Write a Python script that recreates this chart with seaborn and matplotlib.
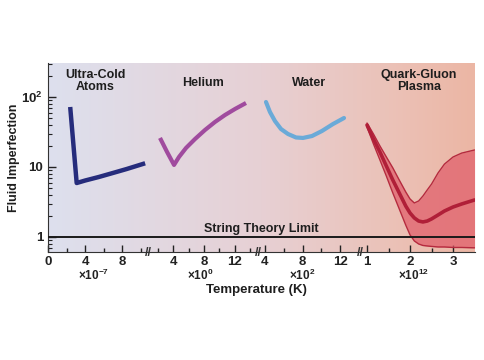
import numpy as np
import matplotlib
matplotlib.use("Agg")
import matplotlib.pyplot as plt
from matplotlib.colors import LinearSegmentedColormap
from matplotlib.ticker import NullFormatter, LogLocator
import seaborn as sns

# data (x in each segment's own units, y = fluid imperfection)
cold_x = [2.4, 3.1, 4.0, 5.5, 7.0, 8.5, 10.5]
cold_y = [72, 5.9, 6.4, 7.2, 8.2, 9.35, 11.3]

helium_x = [2.32, 3.23, 4.13, 4.77, 5.68, 6.84, 8.13, 9.42, 10.71, 12.0, 13.42]
helium_y = [26, 16.4, 10.7, 13.9, 18.7, 25.1, 33.8, 44.0, 55.3, 67.4, 82.1]

water_x = [4.11, 4.53, 5.06, 5.70, 6.45, 7.30, 8.04, 9.0, 10.06, 11.23, 12.4]
water_y = [84.8, 61.1, 45.4, 34.9, 29.6, 26.4, 26.0, 27.7, 32.7, 41.1, 50.1]

qgp_x = [1.0, 1.15, 1.3, 1.45, 1.6, 1.75, 1.9, 2.0, 2.1, 2.2, 2.3, 2.4, 2.5,
         2.65, 2.8, 3.0, 3.2, 3.5]
qgp_upper = [42.5, 29.6, 20.0, 13.9, 9.7, 6.5, 4.4, 3.49, 3.06, 3.27, 3.85,
             4.7, 5.7, 8.2, 11.0, 13.9, 15.8, 17.5]
qgp_mid = [39.8, 25.1, 16.4, 10.3, 6.5, 4.25, 2.77, 2.2, 1.87, 1.69, 1.64,
           1.69, 1.81, 2.06, 2.35, 2.68, 2.96, 3.38]
qgp_lower = [37.3, 21.3, 12.6, 7.4, 4.25, 2.51, 1.48, 1.07, 0.877, 0.794,
             0.756, 0.744, 0.733, 0.72, 0.72, 0.708, 0.708, 0.70]

string_limit = 1.0

seg_names = ["Ultra-Cold\nAtoms", "Helium", "Water", "Quark-Gluon\nPlasma"]
seg_mult = [r"$\mathbf{\times 10^{-7}}$", r"$\mathbf{\times 10^{0}}$",
            r"$\mathbf{\times 10^{2}}$", r"$\mathbf{\times 10^{12}}$"]
seg_mult_x = [4.9, 7.5, 7.9, 2.07]
seg_major = [[0, 4, 8], [4, 8, 12], [4, 8, 12], [1, 2, 3]]
seg_minor = [[2, 6, 10], [2, 6, 10, 14], [6, 10], [1.5, 2.5]]

sns.set_style("ticks")
plt.rcParams["font.family"] = ["Liberation Sans", "DejaVu Sans"]
plt.rcParams["font.weight"] = "bold"
plt.rcParams["mathtext.fontset"] = "custom"
plt.rcParams["mathtext.bf"] = "Liberation Sans:bold"
plt.rcParams["mathtext.rm"] = "Liberation Sans:bold"

W, H = 485, 360
fig = plt.figure(figsize=(W / 100, H / 100), dpi=100)

# pixel layout of the broken axis
px = [48, 148, 258, 360, 475]
bottom, top = 1 - 252 / H, 1 - 63 / H
xlims = [(0, 10.81), (0.77, 14.97), (3.26, 14.1), (0.837, 3.51)]

# background gradient
bg = fig.add_axes([px[0] / W, bottom, (px[-1] - px[0]) / W, top - bottom], zorder=0)
cmap = LinearSegmentedColormap.from_list(
    "bg", [(0, "#dde0ee"), (0.5, "#e7d0d4"), (0.8, "#ebc2b8"), (1, "#ecb6a4")])
bg.imshow(np.linspace(0, 1, 256)[None, :], aspect="auto", cmap=cmap,
          extent=[0, 1, 0, 1])
bg.axis("off")

axes = []
for i in range(4):
    ax = fig.add_axes([px[i] / W, bottom, (px[i + 1] - px[i]) / W, top - bottom],
                      zorder=1, sharey=axes[0] if axes else None)
    ax.set_facecolor("none")
    axes.append(ax)

ax0 = axes[0]
ax0.set_yscale("log")
ax0.set_ylim(0.61, 306)

sns.lineplot(x=cold_x, y=cold_y, ax=axes[0], sort=False, estimator=None,
             color="#262c7c", linewidth=3.2, solid_capstyle="butt")
sns.lineplot(x=helium_x, y=helium_y, ax=axes[1], sort=False, estimator=None,
             color="#a04b9e", linewidth=3.0, solid_capstyle="butt")
sns.lineplot(x=water_x, y=water_y, ax=axes[2], sort=False, estimator=None,
             color="#6aaad8", linewidth=3.0, solid_capstyle="round")

ax3 = axes[3]
ax3.fill_between(qgp_x, qgp_lower, qgp_upper, color="#e05a68", alpha=0.7,
                 linewidth=0)
sns.lineplot(x=qgp_x, y=qgp_upper, ax=ax3, sort=False, estimator=None,
             color="#b52a3e", linewidth=1.0)
sns.lineplot(x=qgp_x, y=qgp_lower, ax=ax3, sort=False, estimator=None,
             color="#b52a3e", linewidth=1.0)
sns.lineplot(x=qgp_x, y=qgp_mid, ax=ax3, sort=False, estimator=None,
             color="#b01f38", linewidth=2.6)

for i, ax in enumerate(axes):
    ax.axhline(string_limit, color="#1a1a1a", linewidth=1.4, zorder=3)
    ax.set_xlim(*xlims[i])
    ax.set_xticks(seg_major[i])
    ax.set_xticks(seg_minor[i], minor=True)
    ax.set_xticklabels([str(v) for v in seg_major[i]])
    ax.tick_params(axis="x", which="major", direction="in", length=5, width=1,
                   labelsize=9.5, pad=3, colors="#222222")
    ax.tick_params(axis="x", which="minor", direction="in", length=3, width=1,
                   colors="#222222")
    ax.spines["top"].set_visible(False)
    ax.spines["right"].set_visible(False)
    ax.spines["bottom"].set_color("#333333")
    ax.set_xlabel("")
    ax.set_ylabel("")
    # multiplier under the tick labels
    ax.text(seg_mult_x[i], -0.125, seg_mult[i],
            transform=ax.get_xaxis_transform(), ha="center", va="center",
            fontsize=8.5, color="#222222")
    if i > 0:
        ax.spines["left"].set_visible(False)
        ax.tick_params(axis="y", which="both", left=False, labelleft=False)

ax0.set_yticks([1, 10, 100])
ax0.set_yticklabels(["1", "10", r"$\mathbf{10^2}$"])
ax0.yaxis.set_minor_locator(LogLocator(base=10, subs=np.arange(2, 10)))
ax0.yaxis.set_minor_formatter(NullFormatter())
ax0.tick_params(axis="y", which="major", direction="in", length=6, width=1,
                labelsize=9.5, colors="#222222")
ax0.tick_params(axis="y", which="minor", direction="in", length=3, width=0.8,
                colors="#222222")
ax0.spines["left"].set_color("#333333")

# break marks
for b in px[1:-1]:
    fig.text(b / W, bottom - 0.003, "//", ha="center", va="center",
             fontsize=9, color="#333333")

# region labels
label_px = [(95, 81), (203, 83), (309, 83), (419, 81)]
for name, (lx, ly) in zip(seg_names, label_px):
    fig.text(lx / W, 1 - ly / H, name, ha="center", va="center", fontsize=9,
             linespacing=1.05, color="#1e1e1e")

fig.text(261 / W, 1 - 229 / H, "String Theory Limit", ha="center",
         va="center", fontsize=9, color="#1e1e1e")
fig.text(256 / W, 1 - 290 / H, "Temperature (K)", ha="center", va="center",
         fontsize=9.5, color="#1e1e1e")
fig.text(14 / W, 1 - 158 / H, "Fluid Imperfection", ha="center", va="center",
         rotation=90, fontsize=9, color="#1e1e1e")

fig.savefig("out.png", dpi=100)
